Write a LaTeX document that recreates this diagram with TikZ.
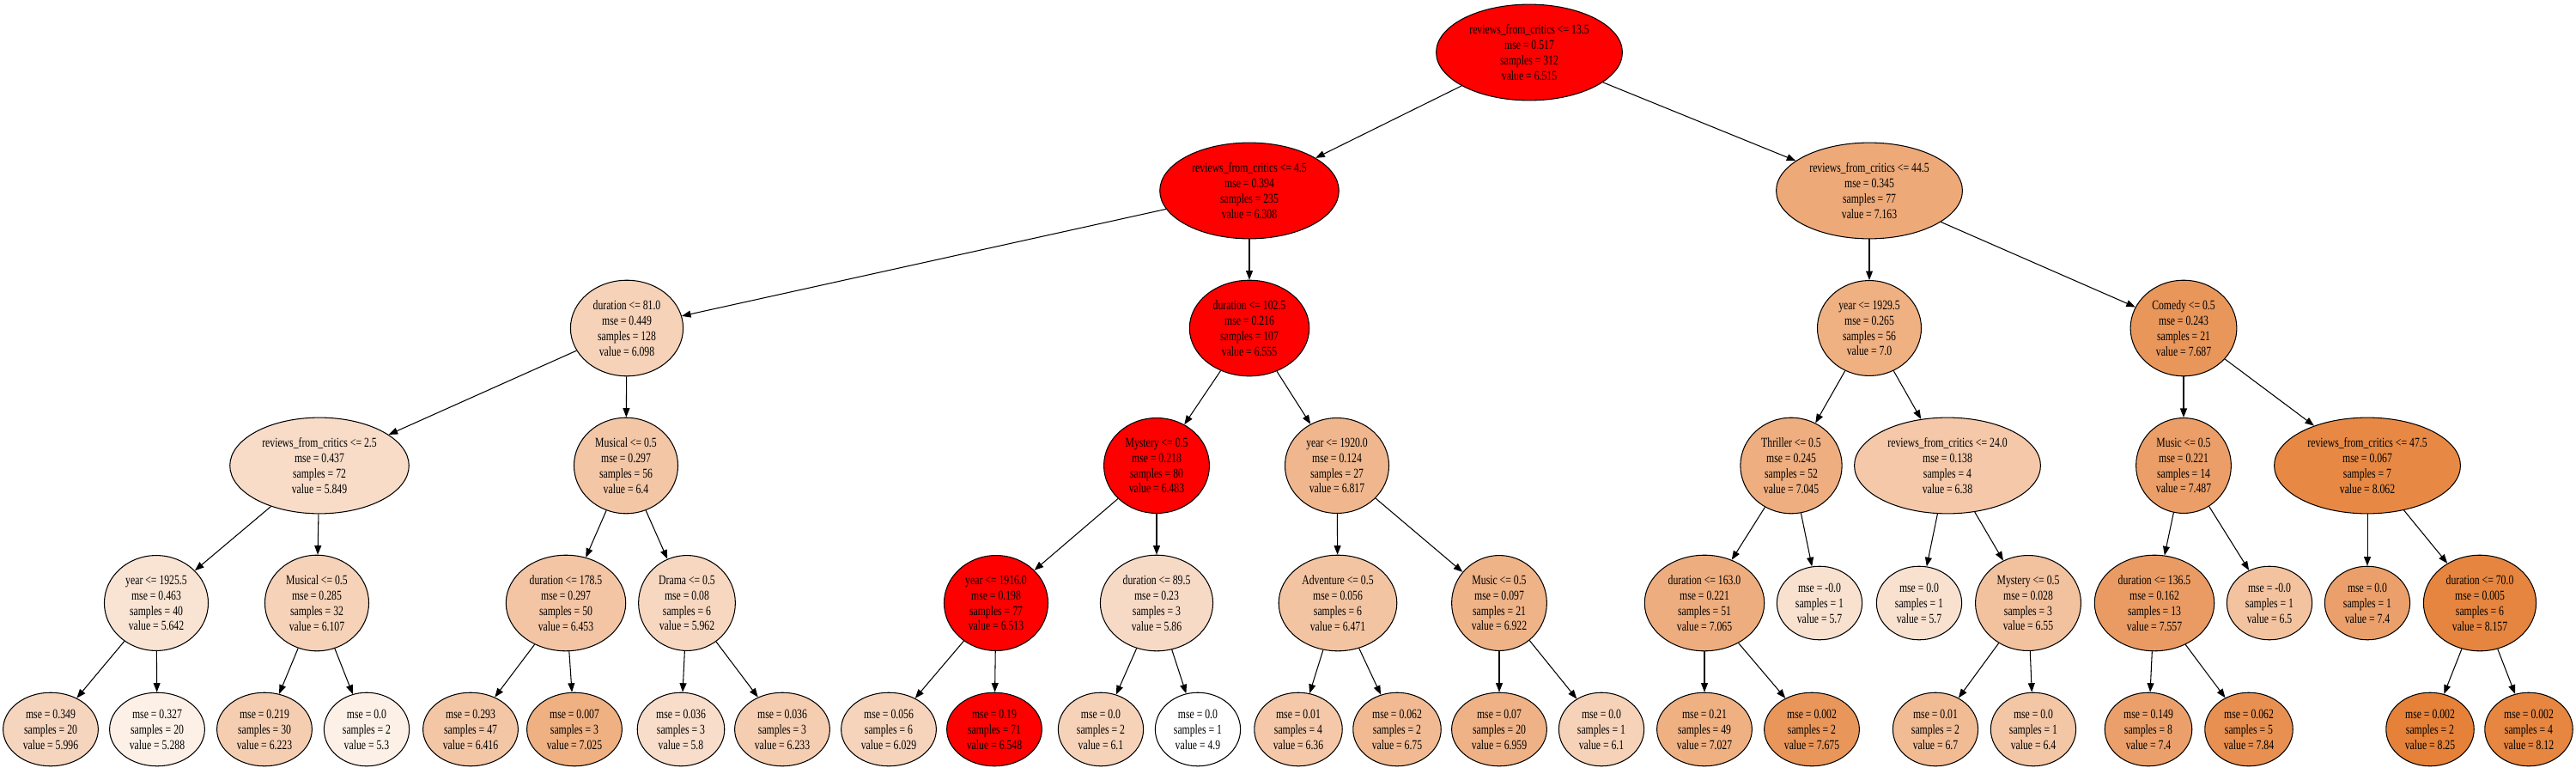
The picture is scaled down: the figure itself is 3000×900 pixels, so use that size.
\documentclass[tikz,border=0pt]{standalone}
\usepackage{fontspec}
\setmainfont{Liberation Serif}[FakeStretch=0.75]
\usetikzlibrary{shapes.geometric,arrows.meta}
\definecolor{dtorange}{RGB}{229,129,57}

\begin{document}
\begin{tikzpicture}[x=0.02cm,y=-0.02cm,
    nd/.style={ellipse,draw,line width=0.6pt,inner sep=4pt,align=center,
      font=\fontsize{8.9}{10.2}\selectfont,fill=dtorange!#1!white},
    hot/.style={nd=0,fill=red},
    link/.style={draw,line width=0.6pt,-{Triangle[length=6pt,width=4.5pt]}}]
    \useasboundingbox (0,0) rectangle (3000,900);
    % level 0 and 1
    \node[hot] (a1) at (1781,61) {reviews\_from\_critics <= 13.5\\mse = 0.517\\samples = 312\\value = 6.515};
    \node[hot] (b1) at (1455,222) {reviews\_from\_critics <= 4.5\\mse = 0.394\\samples = 235\\value = 6.308};
    \node[nd=68] (b2) at (2177,222) {reviews\_from\_critics <= 44.5\\mse = 0.345\\samples = 77\\value = 7.163};
    % level 2
    \node[nd=36] (c1) at (730,382) {duration <= 81.0\\mse = 0.449\\samples = 128\\value = 6.098};
    \node[hot] (c2) at (1455,382) {duration <= 102.5\\mse = 0.216\\samples = 107\\value = 6.555};
    \node[nd=63] (c3) at (2177,382) {year <= 1929.5\\mse = 0.265\\samples = 56\\value = 7.0};
    \node[nd=83] (c4) at (2543,382) {Comedy <= 0.5\\mse = 0.243\\samples = 21\\value = 7.687};
    % level 3
    \node[nd=28] (d1) at (372,542) {reviews\_from\_critics <= 2.5\\mse = 0.437\\samples = 72\\value = 5.849};
    \node[nd=45] (d2) at (729,542) {Musical <= 0.5\\mse = 0.297\\samples = 56\\value = 6.4};
    \node[hot] (d3) at (1347,542) {Mystery <= 0.5\\mse = 0.218\\samples = 80\\value = 6.483};
    \node[nd=57] (d4) at (1557,542) {year <= 1920.0\\mse = 0.124\\samples = 27\\value = 6.817};
    \node[nd=64] (d5) at (2086,542) {Thriller <= 0.5\\mse = 0.245\\samples = 52\\value = 7.045};
    \node[nd=44] (d6) at (2268,542) {reviews\_from\_critics <= 24.0\\mse = 0.138\\samples = 4\\value = 6.38};
    \node[nd=77] (d7) at (2543,542) {Music <= 0.5\\mse = 0.221\\samples = 14\\value = 7.487};
    \node[nd=94] (d8) at (2757,542) {reviews\_from\_critics <= 47.5\\mse = 0.067\\samples = 7\\value = 8.062};
    % level 4
    \node[nd=22] (e1) at (182,702) {year <= 1925.5\\mse = 0.463\\samples = 40\\value = 5.642};
    \node[nd=36] (e2) at (369,702) {Musical <= 0.5\\mse = 0.285\\samples = 32\\value = 6.107};
    \node[nd=46] (e3) at (659,702) {duration <= 178.5\\mse = 0.297\\samples = 50\\value = 6.453};
    \node[nd=32] (e4) at (800,702) {Drama <= 0.5\\mse = 0.08\\samples = 6\\value = 5.962};
    \node[hot] (e5) at (1160,702) {year <= 1916.0\\mse = 0.198\\samples = 77\\value = 6.513};
    \node[nd=29] (e6) at (1347,702) {duration <= 89.5\\mse = 0.23\\samples = 3\\value = 5.86};
    \node[nd=47] (e7) at (1558,702) {Adventure <= 0.5\\mse = 0.056\\samples = 6\\value = 6.471};
    \node[nd=60] (e8) at (1746,702) {Music <= 0.5\\mse = 0.097\\samples = 21\\value = 6.922};
    \node[nd=65] (e9) at (1985,702) {duration <= 163.0\\mse = 0.221\\samples = 51\\value = 7.065};
    \node[nd=24] (e10) at (2119,702) {mse = -0.0\\samples = 1\\value = 5.7};
    \node[nd=24] (e11) at (2235,702) {mse = 0.0\\samples = 1\\value = 5.7};
    \node[nd=49] (e12) at (2362,702) {Mystery <= 0.5\\mse = 0.028\\samples = 3\\value = 6.55};
    \node[nd=79] (e13) at (2509,702) {duration <= 136.5\\mse = 0.162\\samples = 13\\value = 7.557};
    \node[nd=48] (e14) at (2643,702) {mse = -0.0\\samples = 1\\value = 6.5};
    \node[nd=75] (e15) at (2757,702) {mse = 0.0\\samples = 1\\value = 7.4};
    \node[nd=97] (e16) at (2888,702) {duration <= 70.0\\mse = 0.005\\samples = 6\\value = 8.157};
    % level 5
    \node[nd=33] (f1) at (59,849) {mse = 0.349\\samples = 20\\value = 5.996};
    \node[nd=12] (f2) at (183,849) {mse = 0.327\\samples = 20\\value = 5.288};
    \node[nd=39] (f3) at (308,849) {mse = 0.219\\samples = 30\\value = 6.223};
    \node[nd=12] (f4) at (427,849) {mse = 0.0\\samples = 2\\value = 5.3};
    \node[nd=45] (f5) at (548,849) {mse = 0.293\\samples = 47\\value = 6.416};
    \node[nd=63] (f6) at (669,849) {mse = 0.007\\samples = 3\\value = 7.025};
    \node[nd=27] (f7) at (793,849) {mse = 0.036\\samples = 3\\value = 5.8};
    \node[nd=40] (f8) at (911,849) {mse = 0.036\\samples = 3\\value = 6.233};
    \node[nd=34] (f9) at (1035,849) {mse = 0.056\\samples = 6\\value = 6.029};
    \node[hot] (f10) at (1158,849) {mse = 0.19\\samples = 71\\value = 6.548};
    \node[nd=36] (f11) at (1282,849) {mse = 0.0\\samples = 2\\value = 6.1};
    \node[nd=0] (f12) at (1395,849) {mse = 0.0\\samples = 1\\value = 4.9};
    \node[nd=44] (f13) at (1512,849) {mse = 0.01\\samples = 4\\value = 6.36};
    \node[nd=55] (f14) at (1627,849) {mse = 0.062\\samples = 2\\value = 6.75};
    \node[nd=61] (f15) at (1746,849) {mse = 0.07\\samples = 20\\value = 6.959};
    \node[nd=36] (f16) at (1865,849) {mse = 0.0\\samples = 1\\value = 6.1};
    \node[nd=63] (f17) at (1985,849) {mse = 0.21\\samples = 49\\value = 7.027};
    \node[nd=83] (f18) at (2110,849) {mse = 0.002\\samples = 2\\value = 7.675};
    \node[nd=54] (f19) at (2254,849) {mse = 0.01\\samples = 2\\value = 6.7};
    \node[nd=45] (f20) at (2368,849) {mse = 0.0\\samples = 1\\value = 6.4};
    \node[nd=75] (f21) at (2502,849) {mse = 0.149\\samples = 8\\value = 7.4};
    \node[nd=88] (f22) at (2619,849) {mse = 0.062\\samples = 5\\value = 7.84};
    \node[nd=100] (f23) at (2830,849) {mse = 0.002\\samples = 2\\value = 8.25};
    \node[nd=96] (f24) at (2945,849) {mse = 0.002\\samples = 4\\value = 8.12};
    % edges
    \draw[link] (a1) -- (b1);
    \draw[link] (a1) -- (b2);
    \draw[link] (b1) -- (c1);
    \draw[link] (b1) -- (c2);
    \draw[link] (b2) -- (c3);
    \draw[link] (b2) -- (c4);
    \draw[link] (c1) -- (d1);
    \draw[link] (c1) -- (d2);
    \draw[link] (c2) -- (d3);
    \draw[link] (c2) -- (d4);
    \draw[link] (c3) -- (d5);
    \draw[link] (c3) -- (d6);
    \draw[link] (c4) -- (d7);
    \draw[link] (c4) -- (d8);
    \draw[link] (d1) -- (e1);
    \draw[link] (d1) -- (e2);
    \draw[link] (d2) -- (e3);
    \draw[link] (d2) -- (e4);
    \draw[link] (d3) -- (e5);
    \draw[link] (d3) -- (e6);
    \draw[link] (d4) -- (e7);
    \draw[link] (d4) -- (e8);
    \draw[link] (d5) -- (e9);
    \draw[link] (d5) -- (e10);
    \draw[link] (d6) -- (e11);
    \draw[link] (d6) -- (e12);
    \draw[link] (d7) -- (e13);
    \draw[link] (d7) -- (e14);
    \draw[link] (d8) -- (e15);
    \draw[link] (d8) -- (e16);
    \draw[link] (e1) -- (f1);
    \draw[link] (e1) -- (f2);
    \draw[link] (e2) -- (f3);
    \draw[link] (e2) -- (f4);
    \draw[link] (e3) -- (f5);
    \draw[link] (e3) -- (f6);
    \draw[link] (e4) -- (f7);
    \draw[link] (e4) -- (f8);
    \draw[link] (e5) -- (f9);
    \draw[link] (e5) -- (f10);
    \draw[link] (e6) -- (f11);
    \draw[link] (e6) -- (f12);
    \draw[link] (e7) -- (f13);
    \draw[link] (e7) -- (f14);
    \draw[link] (e8) -- (f15);
    \draw[link] (e8) -- (f16);
    \draw[link] (e9) -- (f17);
    \draw[link] (e9) -- (f18);
    \draw[link] (e12) -- (f19);
    \draw[link] (e12) -- (f20);
    \draw[link] (e13) -- (f21);
    \draw[link] (e13) -- (f22);
    \draw[link] (e16) -- (f23);
    \draw[link] (e16) -- (f24);
\end{tikzpicture}
\end{document}
